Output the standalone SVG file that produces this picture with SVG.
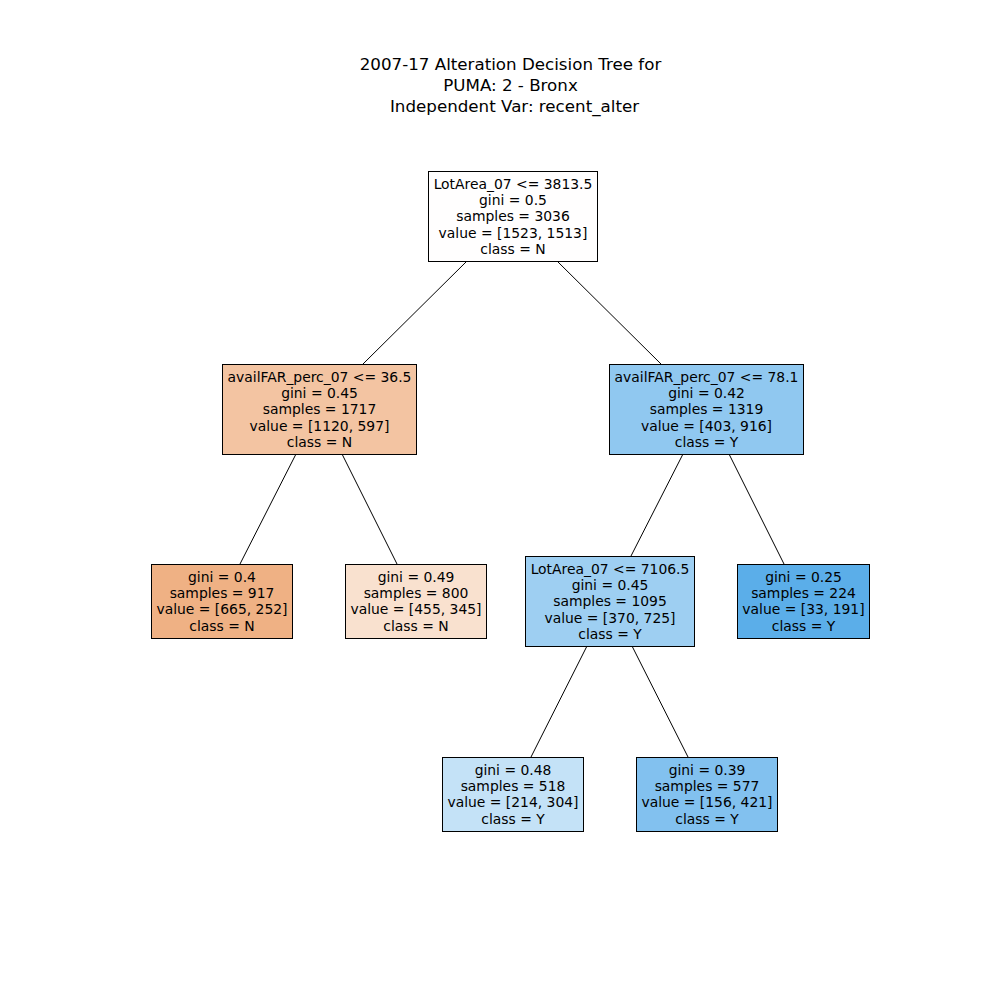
<svg xmlns="http://www.w3.org/2000/svg" width="1000" height="1000" viewBox="0 0 1000 1000">
<style>
text{font-family:"DejaVu Sans",sans-serif;fill:#000;text-anchor:middle}
.t{font-size:16.7px}
.n text{font-size:13.9px}
.n rect{stroke:#000;stroke-width:1}
#edges line{stroke:#000;stroke-width:1}
</style>
<rect width="1000" height="1000" fill="#fff"/>
<g id="title" class="t">
<text x="510.5" y="70">2007-17 Alteration Decision Tree for</text>
<text x="510.5" y="91">PUMA: 2 - Bronx</text>
<text x="514.5" y="112">Independent Var: recent_alter</text>
</g>
<g id="edges">
<line x1="467" y1="261" x2="363" y2="364"/>
<line x1="557" y1="261" x2="661" y2="364"/>
<line x1="296" y1="454" x2="240" y2="564"/>
<line x1="342" y1="454" x2="397" y2="564"/>
<line x1="683" y1="454" x2="631" y2="556"/>
<line x1="729" y1="454" x2="784" y2="564"/>
<line x1="587" y1="646" x2="531" y2="757"/>
<line x1="632" y1="646" x2="688" y2="757"/>
</g>
<g id="n0" class="n">
<rect x="428.5" y="171.5" width="169" height="90" fill="#fffefe"/>
<text x="513" y="189">LotArea_07 &lt;= 3813.5</text>
<text x="513" y="205">gini = 0.5</text>
<text x="513" y="221">samples = 3036</text>
<text x="513" y="238">value = [1523, 1513]</text>
<text x="513" y="254">class = N</text>
</g>
<g id="n1" class="n">
<rect x="222.5" y="364.5" width="194" height="90" fill="#f3c4a2"/>
<text x="319.5" y="382">availFAR_perc_07 &lt;= 36.5</text>
<text x="319.5" y="398">gini = 0.45</text>
<text x="319.5" y="414">samples = 1717</text>
<text x="319.5" y="431">value = [1120, 597]</text>
<text x="319.5" y="447">class = N</text>
</g>
<g id="n2" class="n">
<rect x="151.5" y="564.5" width="141" height="74" fill="#efb184"/>
<text x="222" y="582">gini = 0.4</text>
<text x="222" y="598">samples = 917</text>
<text x="222" y="614">value = [665, 252]</text>
<text x="222" y="631">class = N</text>
</g>
<g id="n3" class="n">
<rect x="345.5" y="564.5" width="141" height="74" fill="#f9e1cf"/>
<text x="416" y="582">gini = 0.49</text>
<text x="416" y="598">samples = 800</text>
<text x="416" y="614">value = [455, 345]</text>
<text x="416" y="631">class = N</text>
</g>
<g id="n4" class="n">
<rect x="609.5" y="364.5" width="194" height="90" fill="#90c8f0"/>
<text x="706.5" y="382">availFAR_perc_07 &lt;= 78.1</text>
<text x="706.5" y="398">gini = 0.42</text>
<text x="706.5" y="414">samples = 1319</text>
<text x="706.5" y="431">value = [403, 916]</text>
<text x="706.5" y="447">class = Y</text>
</g>
<g id="n5" class="n">
<rect x="525.5" y="556.5" width="169" height="90" fill="#9ecff2"/>
<text x="610" y="574">LotArea_07 &lt;= 7106.5</text>
<text x="610" y="590">gini = 0.45</text>
<text x="610" y="606">samples = 1095</text>
<text x="610" y="623">value = [370, 725]</text>
<text x="610" y="639">class = Y</text>
</g>
<g id="n6" class="n">
<rect x="442.5" y="757.5" width="141" height="74" fill="#c4e2f7"/>
<text x="513" y="775">gini = 0.48</text>
<text x="513" y="791">samples = 518</text>
<text x="513" y="807">value = [214, 304]</text>
<text x="513" y="824">class = Y</text>
</g>
<g id="n7" class="n">
<rect x="636.5" y="757.5" width="141" height="74" fill="#82c1ef"/>
<text x="707" y="775">gini = 0.39</text>
<text x="707" y="791">samples = 577</text>
<text x="707" y="807">value = [156, 421]</text>
<text x="707" y="824">class = Y</text>
</g>
<g id="n8" class="n">
<rect x="737.5" y="564.5" width="132" height="74" fill="#5baee9"/>
<text x="803.5" y="582">gini = 0.25</text>
<text x="803.5" y="598">samples = 224</text>
<text x="803.5" y="614">value = [33, 191]</text>
<text x="803.5" y="631">class = Y</text>
</g>
</svg>
